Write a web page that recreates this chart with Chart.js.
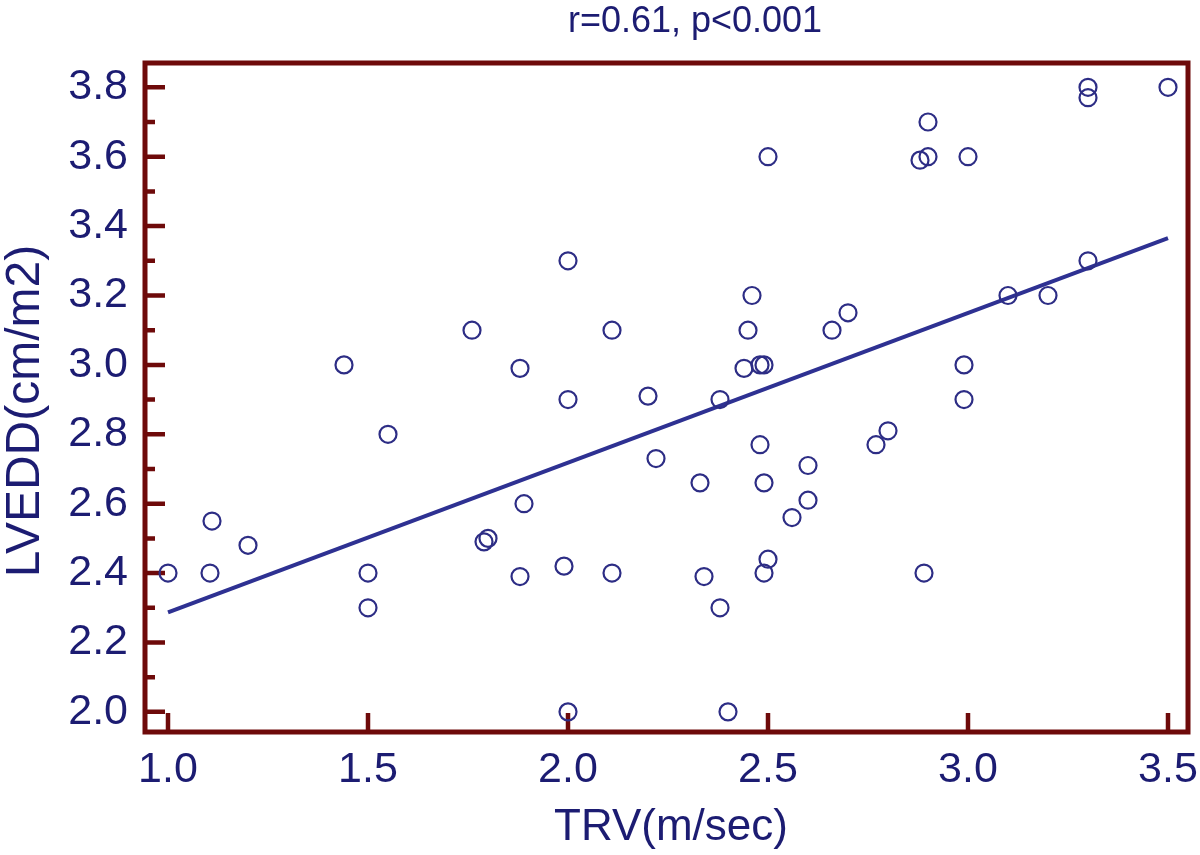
<!DOCTYPE html>
<html>
<head>
<meta charset="utf-8">
<script src="https://cdn.jsdelivr.net/npm/chart.js@4.4.0/dist/chart.umd.min.js"></script>
<style>
  html, body { margin: 0; padding: 0; background: #fff; }
</style>
</head>
<body>
<canvas id="scatter" width="1200" height="855"></canvas>
<script>
// TRV (m/sec) and LVEDD (cm/m2)
const trv = [
  1.0, 1.105, 1.11, 1.2, 1.44, 1.5, 1.5, 1.55, 1.76, 1.79, 1.8, 1.88, 1.89, 1.88,
  2.0, 2.0, 1.99, 2.0, 2.11, 2.2, 2.22, 2.11, 2.33, 2.34, 2.38, 2.38, 2.4,
  2.44, 2.45, 2.46, 2.48, 2.49, 2.48, 2.49, 2.5, 2.49, 2.5, 2.56, 2.6, 2.6,
  2.66, 2.7, 2.77, 2.8, 2.88, 2.9, 2.9, 2.89, 2.99, 2.99, 3.0, 3.1, 3.2,
  3.3, 3.3, 3.3, 3.5,
];
const lvedd = [
  2.4, 2.4, 2.55, 2.48, 3.0, 2.4, 2.3, 2.8, 3.1, 2.49, 2.5, 2.99, 2.6, 2.39,
  3.3, 2.9, 2.42, 2.0, 3.1, 2.91, 2.73, 2.4, 2.66, 2.39, 2.3, 2.9, 2.0,
  2.99, 3.1, 3.2, 3.0, 3.0, 2.77, 2.66, 2.44, 2.4, 3.6, 2.56, 2.71, 2.61,
  3.1, 3.15, 2.77, 2.81, 3.59, 3.6, 3.7, 2.4, 3.0, 2.9, 3.6, 3.2, 3.2,
  3.8, 3.77, 3.3, 3.8,
];

// regression line ends
const fitX = [1.0, 3.5];
const fitY = [2.287, 3.365];

// tick labels
const xTicks = [1.0, 1.5, 2.0, 2.5, 3.0, 3.5];
const yTicks = [2.0, 2.2, 2.4, 2.6, 2.8, 3.0, 3.2, 3.4, 3.6, 3.8];
const yMinor = [2.1, 2.3, 2.5, 2.7, 2.9, 3.1, 3.3, 3.5, 3.7];

const titleText = "r=0.61, p<0.001";
const xTitle = "TRV(m/sec)";
const yTitle = "LVEDD(cm/m2)";

const navy = "#1c1c72";
const frameRed = "#6e0a0a";
const font = "'Liberation Sans', Arial, sans-serif";

// frame, inward ticks and texts
const framePlugin = {
  id: "frame",
  beforeDatasetsDraw(chart) {
    const ctx = chart.ctx;
    const a = chart.chartArea;
    const xs = chart.scales.x;
    const ys = chart.scales.y;
    ctx.save();
    ctx.strokeStyle = frameRed;
    ctx.lineWidth = 5;
    ctx.strokeRect(a.left, a.top, a.right - a.left, a.bottom - a.top);
    ctx.lineWidth = 4.5;
    ctx.beginPath();
    yTicks.forEach((v) => {
      const y = ys.getPixelForValue(v);
      ctx.moveTo(a.left, y);
      ctx.lineTo(a.left + 20, y);
    });
    yMinor.forEach((v) => {
      const y = ys.getPixelForValue(v);
      ctx.moveTo(a.left, y);
      ctx.lineTo(a.left + 10, y);
    });
    xTicks.forEach((v) => {
      const x = xs.getPixelForValue(v);
      ctx.moveTo(x, a.bottom);
      ctx.lineTo(x, a.bottom - 19);
    });
    ctx.stroke();
    ctx.restore();
  },
  afterDraw(chart) {
    const ctx = chart.ctx;
    ctx.save();
    ctx.fillStyle = navy;
    ctx.textAlign = "center";
    ctx.textBaseline = "middle";
    ctx.font = "36px " + font;
    ctx.fillText(titleText, 695, 22);
    ctx.font = "44px " + font;
    ctx.fillText(xTitle, 671, 828);
    ctx.font = "48px " + font;
    ctx.translate(26, 411);
    ctx.rotate(-Math.PI / 2);
    ctx.fillText(yTitle, 0, 0);
    ctx.restore();
  },
};

const ctx = document.getElementById("scatter").getContext("2d");
new Chart(ctx, {
  type: "scatter",
  data: {
    datasets: [
      {
        label: "LVEDD",
        data: trv.map((x, i) => ({ x: x, y: lvedd[i] })),
        pointStyle: "circle",
        pointRadius: 8.5,
        pointBorderWidth: 2.2,
        pointBackgroundColor: "rgba(0,0,0,0)",
        pointBorderColor: "#2d2d85",
        clip: false,
      },
      {
        type: "line",
        label: "fit",
        data: fitX.map((x, i) => ({ x: x, y: fitY[i] })),
        borderColor: "#2e3192",
        borderWidth: 4,
        pointRadius: 0,
        fill: false,
      },
    ],
  },
  options: {
    responsive: false,
    animation: false,
    layout: { padding: { top: 63, right: 12, bottom: 0, left: 0 } },
    plugins: {
      legend: { display: false },
      tooltip: { enabled: false },
      title: { display: false },
    },
    scales: {
      x: {
        type: "linear",
        min: 0.9425,
        max: 3.55,
        grid: { display: false, drawTicks: false },
        border: { display: false },
        afterFit: (scale) => {
          scale.height = 123;
          scale.paddingLeft = 0;
          scale.paddingRight = 0;
        },
        afterBuildTicks: (scale) => {
          scale.ticks = xTicks.map((v) => ({ value: v }));
        },
        ticks: {
          padding: 12,
          color: navy,
          font: { family: font, size: 43 },
          callback: (v) => v.toFixed(1),
          maxRotation: 0,
        },
      },
      y: {
        type: "linear",
        min: 1.942,
        max: 3.87,
        grid: { display: false, drawTicks: false },
        border: { display: false },
        afterFit: (scale) => {
          scale.width = 145;
          scale.paddingTop = 0;
          scale.paddingBottom = 0;
        },
        afterBuildTicks: (scale) => {
          scale.ticks = yTicks.map((v) => ({ value: v }));
        },
        ticks: {
          padding: 17,
          color: navy,
          font: { family: font, size: 43 },
          callback: (v) => v.toFixed(1),
        },
      },
    },
  },
  plugins: [framePlugin],
});
</script>
</body>
</html>
